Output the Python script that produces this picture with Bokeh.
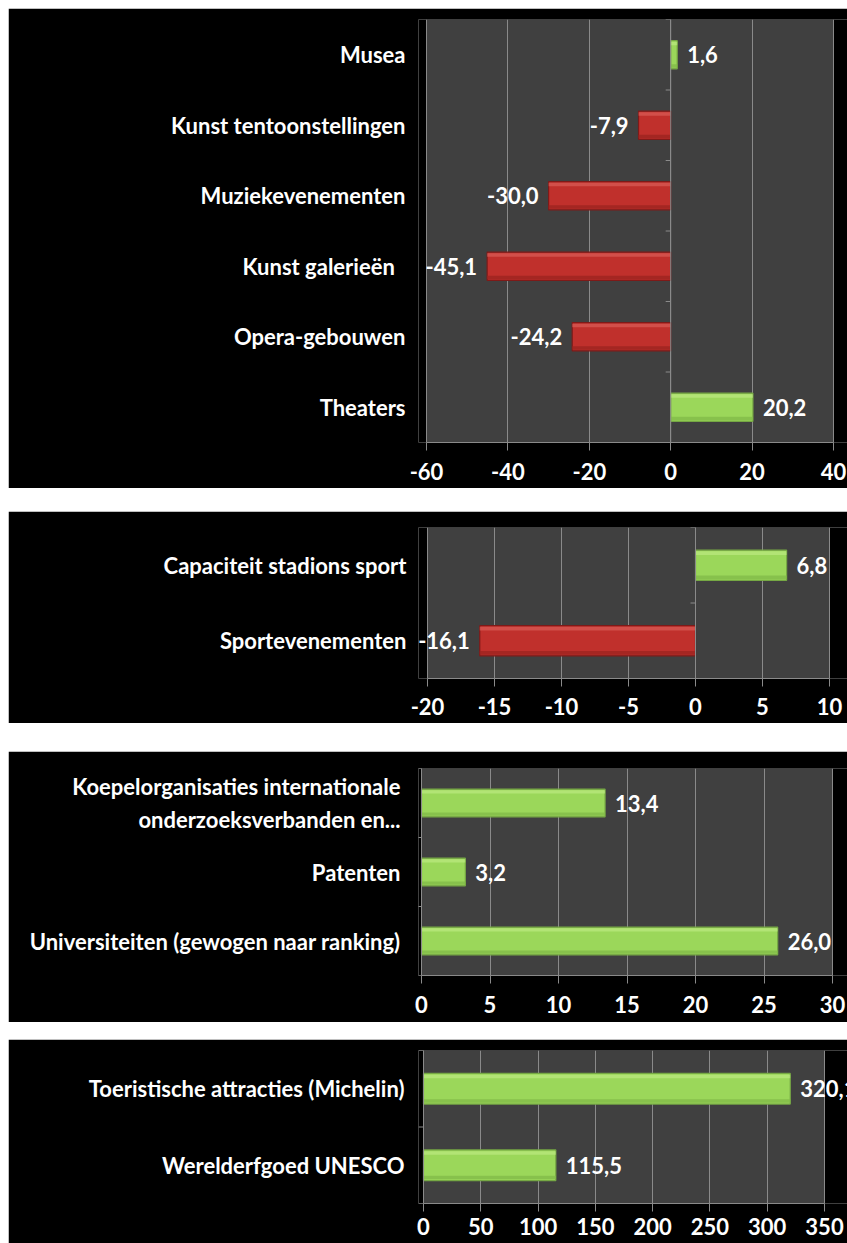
from bokeh.plotting import figure
from bokeh.models import (Range1d, FixedTicker, Span, LabelSet, ColumnDataSource, Spacer,
                          BoxAnnotation)
from bokeh.layouts import column, row
from bokeh.core.properties import value
from bokeh.embed import file_html
from bokeh.resources import INLINE

# ---------------- data (bottom-to-top order) ----------------
cult_cats = ["Theaters", "Opera-gebouwen", "Kunst galerieën\u00a0\u00a0", "Muziekevenementen",
             "Kunst tentoonstellingen", "Musea"]
cult_vals = [20.2, -24.2, -45.1, -30.0, -7.9, 1.6]
cult_ticks = [-60, -40, -20, 0, 20, 40]

sport_cats = ["Sportevenementen", "Capaciteit stadions sport"]
sport_vals = [-16.1, 6.8]
sport_ticks = [-20, -15, -10, -5, 0, 5, 10]

know_cats = ["Universiteiten (gewogen naar ranking)", "Patenten",
             "Koepelorganisaties internationale\nonderzoeksverbanden en..."]
know_vals = [26.0, 3.2, 13.4]
know_ticks = [0, 5, 10, 15, 20, 25, 30]

tour_cats = ["Werelderfgoed UNESCO", "Toeristische attracties (Michelin)"]
tour_vals = [115.5, 320.1]
tour_ticks = [0, 50, 100, 150, 200, 250, 300, 350]

# ---------------- style ----------------
FONT = "Lato"
FS = "22px"
GRID = "#8a8a8a"
PLOT_BG = "#404040"
GREEN, GREEN_EDGE, GREEN_HI, GREEN_LO = "#9bd75a", "#76a844", "#c4ee8c", "#82bb48"
RED, RED_EDGE, RED_HI, RED_LO = "#c0302c", "#7e1a18", "#e06a64", "#9c2421"
W = 839
BL, BR = 410, 0            # common frame borders (all plots share the same frame)
FRAME_W = W - BL - BR
BAR_H = 0.4


def fmt(v):
    return f"{v:.1f}".replace(".", ",")


def panel(cats, vals, ticks, height, g0, g1, bt, bb, label_gap,
          tick_out=8, standoff=12):
    """g0/g1: pixel offsets (inside the frame) of the grey plot area."""
    n = len(cats)
    lo, hi = ticks[0], ticks[-1]
    ppu = (g1 - g0) / (hi - lo)
    xr = (lo - g0 / ppu, hi + (FRAME_W - g1) / ppu)
    p = figure(width=W, height=height, x_range=Range1d(*xr), y_range=Range1d(-0.5, n - 0.5),
               output_backend="svg", toolbar_location=None,
               min_border_left=BL, min_border_right=BR,
               min_border_top=bt, min_border_bottom=bb)
    p.background_fill_color = "black"
    p.border_fill_color = "black"
    p.outline_line_color = None
    p.add_layout(BoxAnnotation(left=lo, right=hi, fill_color=PLOT_BG, fill_alpha=1,
                               line_color=None, level="image"))
    p.ygrid.visible = False
    p.xgrid.ticker = FixedTicker(ticks=ticks)
    p.xgrid.grid_line_color = GRID
    p.xgrid.grid_line_width = 1

    xa = p.xaxis[0]
    xa.ticker = FixedTicker(ticks=ticks)
    xa.bounds = (lo, hi)
    xa.major_label_overrides = {t: str(t) for t in ticks}
    xa.axis_line_color = GRID
    xa.major_tick_line_color = GRID
    xa.major_tick_out = tick_out
    xa.major_tick_in = 0
    xa.minor_tick_line_color = None
    xa.major_label_standoff = standoff
    xa.major_label_text_color = "white"
    xa.major_label_text_font = FONT
    xa.major_label_text_font_style = "bold"
    xa.major_label_text_font_size = FS

    ya = p.yaxis[0]
    ya.ticker = FixedTicker(ticks=list(range(n)))
    ya.major_label_overrides = {i: c for i, c in enumerate(cats)}
    ya.axis_line_color = None
    ya.major_tick_line_color = None
    ya.minor_tick_line_color = None
    ya.major_tick_out = 0
    ya.major_tick_in = 0
    # labels end label_gap px left of the grey area
    ya.major_label_standoff = max(label_gap - g0, 0)
    ya.major_label_text_color = "white"
    ya.major_label_text_font = FONT
    ya.major_label_text_font_style = "bold"
    ya.major_label_text_font_size = FS

    # category axis drawn at x = 0 with small ticks at category boundaries
    p.add_layout(Span(location=0, dimension="height", line_color=GRID, line_width=1))
    L = 5 / ppu
    bnd = [k - 0.5 for k in range(n + 1)]
    p.segment(x0=[-L] * len(bnd), x1=[0] * len(bnd), y0=bnd, y1=bnd,
              line_color=GRID, line_width=1)

    ys = list(range(n))
    pos_ok = [v >= 0 for v in vals]
    src = ColumnDataSource(dict(
        y=ys, v=vals,
        c=[GREEN if k else RED for k in pos_ok],
        e=[GREEN_EDGE if k else RED_EDGE for k in pos_ok],
        hi=[GREEN_HI if k else RED_HI for k in pos_ok],
        lo=[GREEN_LO if k else RED_LO for k in pos_ok],
        yhi=[y + BAR_H * 0.40 for y in ys],
        ylo=[y - BAR_H * 0.40 for y in ys],
    ))
    p.hbar(y="y", left=0, right="v", height=BAR_H, fill_color="c", line_color="e",
           line_width=1.2, source=src)
    p.hbar(y="yhi", left=0, right="v", height=BAR_H * 0.12, fill_color="hi", fill_alpha=0.55,
           line_color=None, source=src)
    p.hbar(y="ylo", left=0, right="v", height=BAR_H * 0.12, fill_color="lo", fill_alpha=0.8,
           line_color=None, source=src)

    pos = ColumnDataSource(dict(x=[v for v in vals if v >= 0],
                                y=[i for i, v in enumerate(vals) if v >= 0],
                                t=[fmt(v) for v in vals if v >= 0]))
    neg = ColumnDataSource(dict(x=[v for v in vals if v < 0],
                                y=[i for i, v in enumerate(vals) if v < 0],
                                t=[fmt(v) for v in vals if v < 0]))
    for s, off, al in ((pos, 10, "left"), (neg, -10, "right")):
        p.add_layout(LabelSet(x="x", y="y", text="t", source=s, x_offset=off,
                              text_align=al, text_baseline="middle", text_color="white",
                              text_font=value(FONT), text_font_style="bold",
                              text_font_size=FS))
    return p


# grey areas (page px): p1 426-833, p2 427-829, p3 421-832, p4 423-824
X0 = 8 + BL
p1 = panel(cult_cats, cult_vals, cult_ticks, 480, 426 - X0, 833 - X0, 11, 46, 21)
p2 = panel(sport_cats, sport_vals, sport_ticks, 212, 427 - X0, 829 - X0, 16, 45, 21,
           standoff=11)
p3 = panel(know_cats, know_vals, know_ticks, 271, 421 - X0, 832 - X0, 17, 47, 21)
p4 = panel(tour_cats, tour_vals, tour_ticks, 204, 423 - X0, 824 - X0, 11, 40, 19,
           tick_out=8, standoff=6)

inner = column(Spacer(height=8), p1, Spacer(height=23), p2, Spacer(height=28), p3,
               Spacer(height=17), p4)
layout = row(Spacer(width=8), inner)

open("out.html", "w").write(file_html(layout, INLINE))
